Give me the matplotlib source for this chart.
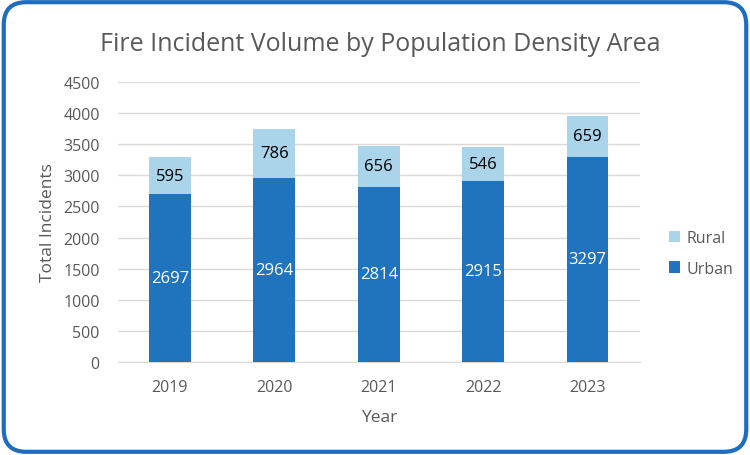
import matplotlib
matplotlib.use("Agg")
import matplotlib.pyplot as plt
from matplotlib.patches import FancyBboxPatch
import numpy as np

years = ["2019", "2020", "2021", "2022", "2023"]
urban = [2697, 2964, 2814, 2915, 3297]
rural = [595, 786, 656, 546, 659]

plt.rcParams['font.family'] = ['Open Sans', 'DejaVu Sans']
grey = '#595959'
c_urban = '#1F74BD'
c_rural = '#A9D4EA'

fig = plt.figure(figsize=(7.5, 4.56), dpi=100)
ax = fig.add_axes([0.157, 0.204, 0.696, 0.614])

x = np.arange(len(years))
w = 0.4
b1 = ax.bar(x, urban, w, color=c_urban, label='Urban', zorder=3)
b2 = ax.bar(x, rural, w, bottom=urban, color=c_rural, label='Rural', zorder=3)

for xi, u, r in zip(x, urban, rural):
    ax.text(xi, u / 2, str(u), ha='center', va='center', color='white', fontsize=12, zorder=4)
    ax.text(xi, u + r / 2, str(r), ha='center', va='center', color='black', fontsize=12, zorder=4)

ax.set_xlim(-0.5, len(years) - 0.5)
ax.set_ylim(0, 4500)
ax.set_yticks(np.arange(0, 4501, 500))
ax.set_xticks(x)
ax.set_xticklabels(years)
ax.yaxis.grid(True, color='#D9D9D9', linewidth=1, zorder=0)
ax.set_axisbelow(True)
for s in ['top', 'right', 'left']:
    ax.spines[s].set_visible(False)
ax.spines['bottom'].set_color('#D9D9D9')
ax.tick_params(axis='both', length=0, colors=grey, labelsize=11.5)
ax.tick_params(axis='y', pad=13)
ax.tick_params(axis='x', pad=12)
ax.set_xlabel('Year', color=grey, fontsize=12.5, labelpad=10)
ax.set_ylabel('Total Incidents', color=grey, fontsize=12.5, labelpad=5)

fig.suptitle('Fire Incident Volume by Population Density Area', x=0.507, y=0.93,
             color=grey, fontsize=18)

handles = [b2, b1]
leg = fig.legend(handles, ['Rural', 'Urban'], loc='center left', bbox_to_anchor=(0.873, 0.442),
                 frameon=False, fontsize=11.5, handlelength=0.7, handleheight=0.7,
                 handletextpad=0.4, labelspacing=0.9, labelcolor=grey)

border = FancyBboxPatch((0.005, 0.007), 0.99, 0.986, boxstyle="round,pad=0,rounding_size=0.03",
                        transform=fig.transFigure, fill=False, edgecolor='#1F6DBF',
                        linewidth=3, mutation_aspect=750/456)
fig.patches.append(border)

fig.savefig('out.png', dpi=100)
